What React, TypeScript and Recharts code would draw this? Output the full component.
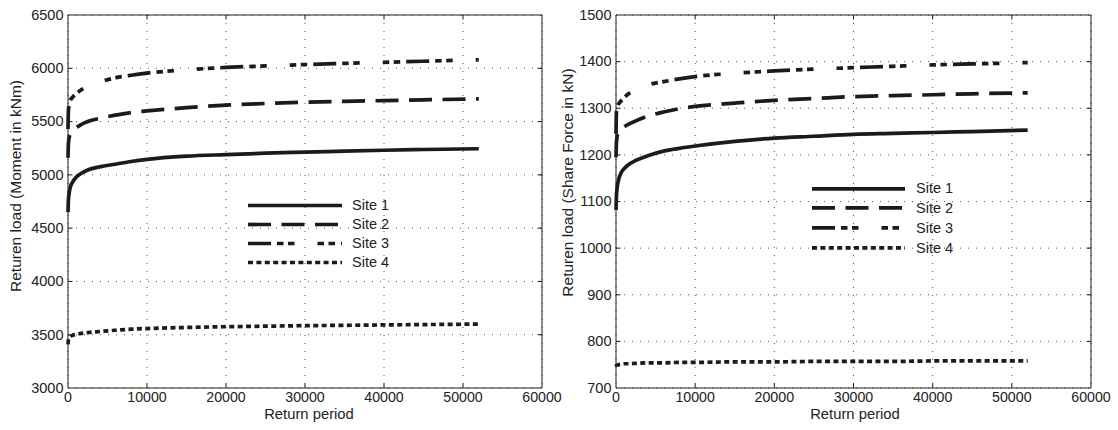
import { CartesianGrid, Legend, Line, LineChart, ReferenceArea, XAxis, YAxis } from "recharts";

const returnPeriod = [2, 50, 150, 300, 600, 1000, 1500, 2500, 4000, 6000, 8000, 10000, 15000, 20000, 25000, 30000, 35000, 40000, 45000, 52000];

// moment in kNm
const momentSite1 = [4650, 4760, 4830, 4885, 4935, 4975, 5005, 5045, 5075, 5100, 5125, 5145, 5175, 5190, 5203, 5213, 5222, 5231, 5238, 5245];
const momentSite2 = [5160, 5290, 5350, 5385, 5415, 5440, 5465, 5500, 5530, 5560, 5585, 5600, 5630, 5655, 5670, 5682, 5690, 5697, 5704, 5713];
const momentSite3 = [5430, 5600, 5660, 5700, 5730, 5760, 5790, 5830, 5870, 5910, 5935, 5955, 5985, 6008, 6022, 6035, 6046, 6056, 6066, 6080];
const momentSite4 = [3410, 3450, 3470, 3482, 3495, 3503, 3510, 3520, 3530, 3542, 3552, 3558, 3568, 3575, 3580, 3585, 3588, 3592, 3595, 3600];

// shear force in kN
const shearSite1 = [1082, 1110, 1130, 1145, 1160, 1170, 1178, 1188, 1198, 1208, 1214, 1219, 1229, 1236, 1240, 1244, 1246, 1248, 1250, 1253];
const shearSite2 = [1195, 1225, 1240, 1248, 1255, 1260, 1265, 1273, 1283, 1292, 1299, 1304, 1311, 1317, 1321, 1325, 1327, 1329, 1331, 1333];
const shearSite3 = [1245, 1290, 1300, 1308, 1315, 1322, 1330, 1340, 1350, 1357, 1363, 1368, 1375, 1380, 1384, 1387, 1390, 1393, 1395, 1398];
const shearSite4 = [746, 748, 749, 750, 751, 752, 752, 753, 754, 754, 755, 755, 756, 756, 757, 757, 757, 758, 758, 758];

const siteNames = ["Site 1", "Site 2", "Site 3", "Site 4"];
const xTicks = [0, 10000, 20000, 30000, 40000, 50000, 60000];
const momentTicks = [3000, 3500, 4000, 4500, 5000, 5500, 6000, 6500];
const shearTicks = [700, 800, 900, 1000, 1100, 1200, 1300, 1400, 1500];

const FONT = '"Liberation Sans", Arial, Helvetica, sans-serif';
const INK = "#1b1b1b";
const TEXT = "#222";
const HEIGHT = 430;
const TOP = 15;
const X_AXIS_H = 42;
const PLOT_H = HEIGHT - TOP - X_AXIS_H;
const TICK = 4.5;
const LINE_W = 3.7;

// matlab-ish line styles: solid, --, -., :
const dashes: (string | undefined)[] = [undefined, "23 10.5", "23 6 6.5 4.5 6.5 23 6.5 4.5 6.5 6", "5 3.4"];

function toRows(series: number[][]) {
  return returnPeriod.map((t, i) => ({
    t,
    s1: series[0][i],
    s2: series[1][i],
    s3: series[2][i],
    s4: series[3][i],
  }));
}

const momentData = toRows([momentSite1, momentSite2, momentSite3, momentSite4]);
const shearData = toRows([shearSite1, shearSite2, shearSite3, shearSite4]);

function XTick(props: any) {
  const { x, y, payload } = props;
  const edge = payload.value === xTicks[0] || payload.value === xTicks[xTicks.length - 1];
  return (
    <g>
      {!edge && <line x1={x} x2={x} y1={y} y2={y - TICK} stroke={INK} strokeWidth={1} />}
      {!edge && <line x1={x} x2={x} y1={y - PLOT_H} y2={y - PLOT_H + TICK} stroke={INK} strokeWidth={1} />}
      <text x={x} y={y + 14} textAnchor="middle" fontSize={14.2} fontFamily={FONT} fill={TEXT}>
        {payload.value}
      </text>
    </g>
  );
}

function makeYTick(plotW: number, ticks: number[]) {
  return (props: any) => {
    const { x, y, payload } = props;
    const edge = payload.value === ticks[0] || payload.value === ticks[ticks.length - 1];
    return (
      <g>
        {!edge && <line x1={x} x2={x + TICK} y1={y} y2={y} stroke={INK} strokeWidth={1} />}
        {!edge && <line x1={x + plotW - TICK} x2={x + plotW} y1={y} y2={y} stroke={INK} strokeWidth={1} />}
        <text x={x - 4.5} y={y + 4.8} textAnchor="end" fontSize={14.5} fontFamily={FONT} fill={TEXT}>
          {payload.value}
        </text>
      </g>
    );
  };
}

function makeLegend(rowH: number, lineLen: number, gap: number) {
  return () => (
    <div style={{ fontFamily: FONT, fontSize: 14.5, color: TEXT }}>
      {siteNames.map((name, i) => (
        <div key={name} style={{ display: "flex", alignItems: "center", height: rowH }}>
          <svg width={lineLen} height={rowH} style={{ display: "block" }}>
            <line
              x1={0}
              x2={lineLen}
              y1={rowH / 2}
              y2={rowH / 2}
              stroke={INK}
              strokeWidth={LINE_W}
              strokeDasharray={dashes[i]}
            />
          </svg>
          <span style={{ marginLeft: gap, lineHeight: 1, whiteSpace: "nowrap" }}>{name}</span>
        </div>
      ))}
    </div>
  );
}

interface PanelProps {
  data: ReturnType<typeof toRows>;
  yTicks: number[];
  left: number;
  width: number;
  yAxisWidth: number;
  marginRight: number;
  legendLeft: number;
  legendTop: number;
  legendRowH: number;
  legendLine: number;
  legendGap: number;
}

function Panel(p: PanelProps) {
  const plotW = p.width - p.yAxisWidth - p.marginRight;
  const yMin = p.yTicks[0];
  const yMax = p.yTicks[p.yTicks.length - 1];
  return (
    <div style={{ position: "absolute", left: p.left, top: 0 }}>
      <LineChart
        width={p.width}
        height={HEIGHT}
        data={p.data}
        margin={{ top: TOP, right: p.marginRight, bottom: 0, left: 0 }}
      >
        <CartesianGrid stroke="#555" strokeWidth={1} strokeDasharray="1 7" />
        <XAxis
          dataKey="t"
          type="number"
          domain={[0, 60000]}
          ticks={xTicks}
          interval={0}
          height={X_AXIS_H}
          axisLine={false}
          tickLine={false}
          tickSize={0}
          tickMargin={0}
          tick={XTick}
        />
        <YAxis
          type="number"
          domain={[yMin, yMax]}
          ticks={p.yTicks}
          interval={0}
          width={p.yAxisWidth}
          axisLine={false}
          tickLine={false}
          tickSize={0}
          tickMargin={0}
          tick={makeYTick(plotW, p.yTicks)}
        />
        <ReferenceArea x1={0} x2={60000} y1={yMin} y2={yMax} fill="none" stroke={INK} strokeWidth={1} />
        {["s1", "s2", "s3", "s4"].map((key, i) => (
          <Line
            key={key}
            dataKey={key}
            name={siteNames[i]}
            type="monotone"
            stroke={INK}
            strokeWidth={LINE_W}
            strokeDasharray={dashes[i]}
            dot={false}
            activeDot={false}
            isAnimationActive={false}
          />
        ))}
        <Legend
          layout="vertical"
          align="center"
          verticalAlign="middle"
          content={makeLegend(p.legendRowH, p.legendLine, p.legendGap)}
          wrapperStyle={{ left: p.legendLeft, top: p.legendTop, width: "auto", height: "auto" }}
        />
      </LineChart>
    </div>
  );
}

export default function App() {
  return (
    <div style={{ position: "absolute", left: 0, top: 0, width: 1118, height: 430, background: "#fff", overflow: "hidden" }}>
      <Panel
        data={momentData}
        yTicks={momentTicks}
        left={0}
        width={580}
        yAxisWidth={68}
        marginRight={38}
        legendLeft={248}
        legendTop={195.5}
        legendRowH={19}
        legendLine={94}
        legendGap={10}
      />
      <Panel
        data={shearData}
        yTicks={shearTicks}
        left={560}
        width={558}
        yAxisWidth={56}
        marginRight={27}
        legendLeft={252}
        legendTop={178.5}
        legendRowH={19.8}
        legendLine={93}
        legendGap={11}
      />
      <svg
        width={1118}
        height={430}
        style={{ position: "absolute", left: 0, top: 0, pointerEvents: "none" }}
        fontFamily={FONT}
        fill={TEXT}
      >
        <text x={309} y={419} textAnchor="middle" fontSize={14.8}>Return period</text>
        <text x={855} y={419} textAnchor="middle" fontSize={14.8}>Return period</text>
        <text x={21} y={186} textAnchor="middle" fontSize={15.5} transform="rotate(-90 21 186)">
          Returen load (Moment in kNm)
        </text>
        <text x={572.5} y={182.5} textAnchor="middle" fontSize={15.5} transform="rotate(-90 572.5 182.5)">
          Returen load (Share Force in kN)
        </text>
      </svg>
    </div>
  );
}
